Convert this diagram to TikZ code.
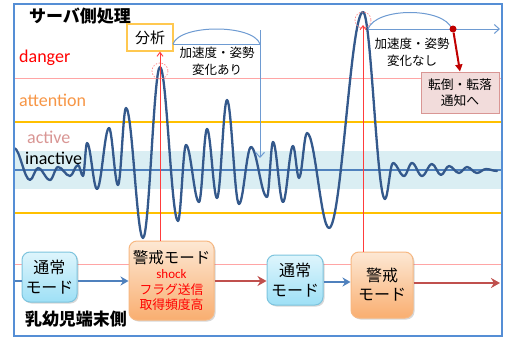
\documentclass[tikz,border=0pt]{standalone}
\usepackage{fontspec}
\setmainfont{Carlito}
\newfontfamily\jp{Noto Sans CJK JP}
\usetikzlibrary{arrows.meta,shadows}
\definecolor{frameblue}{RGB}{85,142,213}
\definecolor{wavec}{RGB}{52,89,140}
\definecolor{bandc}{RGB}{218,238,243}
\definecolor{midline}{RGB}{79,129,189}
\definecolor{yel}{RGB}{255,192,0}
\definecolor{dangerline}{RGB}{255,165,165}
\definecolor{redv}{RGB}{255,60,60}
\definecolor{arcc}{RGB}{110,155,210}
\definecolor{darkred}{RGB}{192,0,0}
\definecolor{arrowblue}{RGB}{79,129,189}
\definecolor{arrowred}{RGB}{192,80,77}
\definecolor{attn}{RGB}{247,150,70}
\definecolor{actc}{RGB}{217,150,148}
\definecolor{tsujotop}{RGB}{222,245,252}
\definecolor{tsujobot}{RGB}{158,224,246}
\definecolor{tsujoline}{RGB}{125,196,222}
\definecolor{keitop}{RGB}{253,232,212}
\definecolor{keibot}{RGB}{249,174,112}
\definecolor{keiline}{RGB}{247,184,130}
\definecolor{bunline}{RGB}{255,200,80}
\definecolor{tenfill}{RGB}{242,220,219}
\definecolor{tenline}{RGB}{217,150,148}
\tikzset{
  modebox/.style={rounded corners=8pt, draw, line width=1pt, inner sep=0pt, align=center,
    drop shadow={shadow xshift=1.5pt, shadow yshift=-1.5pt, opacity=0.25, fill=black!60}},
  tsujo/.style={modebox, draw=tsujoline, top color=tsujotop, bottom color=tsujobot,
    font={\jp\fontsize{16}{20}\selectfont}},
  keikai/.style={modebox, draw=keiline, top color=keitop, bottom color=keibot},
  wave/.style={draw=wavec, line width=2.3pt, line join=round, line cap=round},
  redarrow/.style={draw=redv, line width=0.9pt, -{Straight Barb[length=4pt,width=6pt]}},
  arcline/.style={draw=arcc, line width=1pt},
  openhead/.style={-{Straight Barb[length=5pt,width=9pt]}},
  dcircle/.style={draw=redv!60, line width=0.7pt, dash pattern=on 1.5pt off 1.5pt},
  label/.style={anchor=base west, inner sep=0pt, font=\fontsize{18}{20}\selectfont},
  jplabel/.style={inner sep=0pt, align=center, font={\jp\fontsize{12.5}{17}\selectfont}},
  bluearrow/.style={draw=arrowblue, line width=2pt, -{Stealth[length=8pt,width=9pt]}},
  rarrow/.style={draw=arrowred, line width=2.6pt, -{Stealth[length=9pt,width=10pt]}}
}
\begin{document}
\begin{tikzpicture}[x=1pt,y=-1pt]
\useasboundingbox (0,0) rectangle (507,340);
\fill[white] (0,0) rectangle (507,340);
% band
\fill[bandc] (14,151) rectangle (502,189);
\draw[midline, line width=1.4pt] (14,170) -- (502,170);
% level lines
\draw[dangerline, line width=0.8pt] (14,78) -- (502,78);
\draw[yel, line width=2.5pt] (14,122) -- (502,122);
\draw[yel, line width=2.5pt] (14,213) -- (502,213);
\draw[dangerline, line width=0.8pt] (14,264) -- (502,264);
% labels
\node[label, text=red] (ldanger) at (19,62) {danger};
\node[label, text=attn] (lattn) at (19,106) {attention};
\node[label, text=actc] (lact) at (27,143) {active};
% wave
\draw[wave] (14,148) foreach \x/\y [remember=\x as \lx (initially 14)] in
 {30/180,38/168,50/180,58/167,70/176,78/165,83/176,87/143,97/189,109/128,118/185,126/108,
  143/238,160/67,178/221,186/145,199/202,207/129,217/198,227/100,239/204,251/147,267/197,
  273/142,283/202,293/146,299/178,307/133,329/228,363/12,385/199,393/163,404/176,412/163,
  422/176,432/164,441/175,449/166,459/173,467/167,477/173,486/169,497/171}
 { .. controls +({0.364*(\x-\lx)},0) and +({-0.364*(\x-\lx)},0) .. (\x,\y) };
\node[label, text=black] (linact) at (25,164) {inactive};
% titles
\node[inner sep=0pt, font={\jp\bfseries\fontsize{17}{20}\selectfont}] (srv) at (80,16) {サーバ側処理};
\node[inner sep=0pt, font={\jp\bfseries\fontsize{17}{20}\selectfont}] (term) at (76,319) {乳幼児端末側};
% peaks
\coordinate (p1) at (160,71);
\coordinate (p2) at (363,20);
\draw[dcircle] (p1) circle (8);
\draw[dcircle] (p2) circle (8);
% analysis box
\node[draw=bunline, line width=1.2pt, fill=white, minimum width=46pt, minimum height=27pt,
  inner sep=0pt, font={\jp\fontsize{15}{18}\selectfont}] (bun) at (150,37.5) {分析};
% arcs
\coordinate (a1s) at (173,44);
\coordinate (a1e) at (260,44);
\coordinate (a1t) at (260,30);
\coordinate (a1b) at (260,158);
\draw[arcline] (a1s) .. controls (180,24) and (253,24) .. (a1e);
\draw[arcline] (a1s) -- (a1e);
\draw[arcline, openhead] (a1t) -- (a1b);
\node[jplabel] (t1) at (217,61.5) {加速度・姿勢\\変化あり};
\coordinate (a2s) at (368,29);
\coordinate (a2e) at (452,29);
\coordinate (a2r) at (500,29);
\draw[arcline] (a2s) .. controls (376,7) and (444,7) .. (a2e);
\draw[arcline, openhead] (a2s) -- (a2r);
\node[jplabel] (t2) at (412,52.5) {加速度・姿勢\\変化なし};
% notification
\node[draw=tenline, line width=1pt, fill=tenfill, minimum width=78pt, minimum height=41pt,
  inner sep=0pt, align=center, font={\jp\fontsize{12.8}{16}\selectfont}] (ten) at (460,92.5) {転倒・転落\\通知へ};
\node[circle, fill=darkred, inner sep=0pt, minimum size=7pt] (dot) at (453,29) {};
\draw[darkred, line width=2pt, -{Triangle[length=7pt,width=7pt]}] (dot) -- (ten.north);
% mode boxes
\node[tsujo, minimum width=55pt, minimum height=50pt] (n1) at (49.5,277) {通常\\モード};
\node[keikai, minimum width=85pt, minimum height=79pt,
  font={\jp\fontsize{12.8}{15.5}\selectfont}] (k1) at (171.5,280.5)
  {{\fontsize{15.5}{17}\selectfont 警戒モード}\\[0pt]
   \textcolor{red}{\rmfamily\fontsize{13}{14}\selectfont shock}\\
   \textcolor{red}{フラグ送信}\\
   \textcolor{red}{取得頻度高}};
\node[tsujo, minimum width=56pt, minimum height=50pt] (n2) at (295,280) {通常\\モード};
\node[keikai, minimum width=62pt, minimum height=66pt,
  font={\jp\fontsize{16}{19}\selectfont}] (k2) at (382,285) {警戒\\モード};
% red vertical arrows
\coordinate (p2top) at (363,25);
\draw[redarrow] (k1.north -| p1) -- (bun.south -| p1);
\draw[redarrow] (k2.north -| p2) -- (p2top);
% bottom arrows
\coordinate (lin) at (14,281);
\coordinate (rout) at (500,283);
\draw[draw=arrowblue, line width=2pt] (lin) -- (n1.west |- lin);
\draw[bluearrow] (n1.east |- lin) -- (k1.west |- lin);
\draw[rarrow] (k1.east |- lin) -- (n2.west |- lin);
\draw[bluearrow] (n2.east |- 0,282) -- (k2.west |- 0,282);
\draw[rarrow] (k2.east |- rout) -- (rout);
% frame
\draw[frameblue, line width=2pt] (14,4) rectangle (502,336);
\end{tikzpicture}
\end{document}
